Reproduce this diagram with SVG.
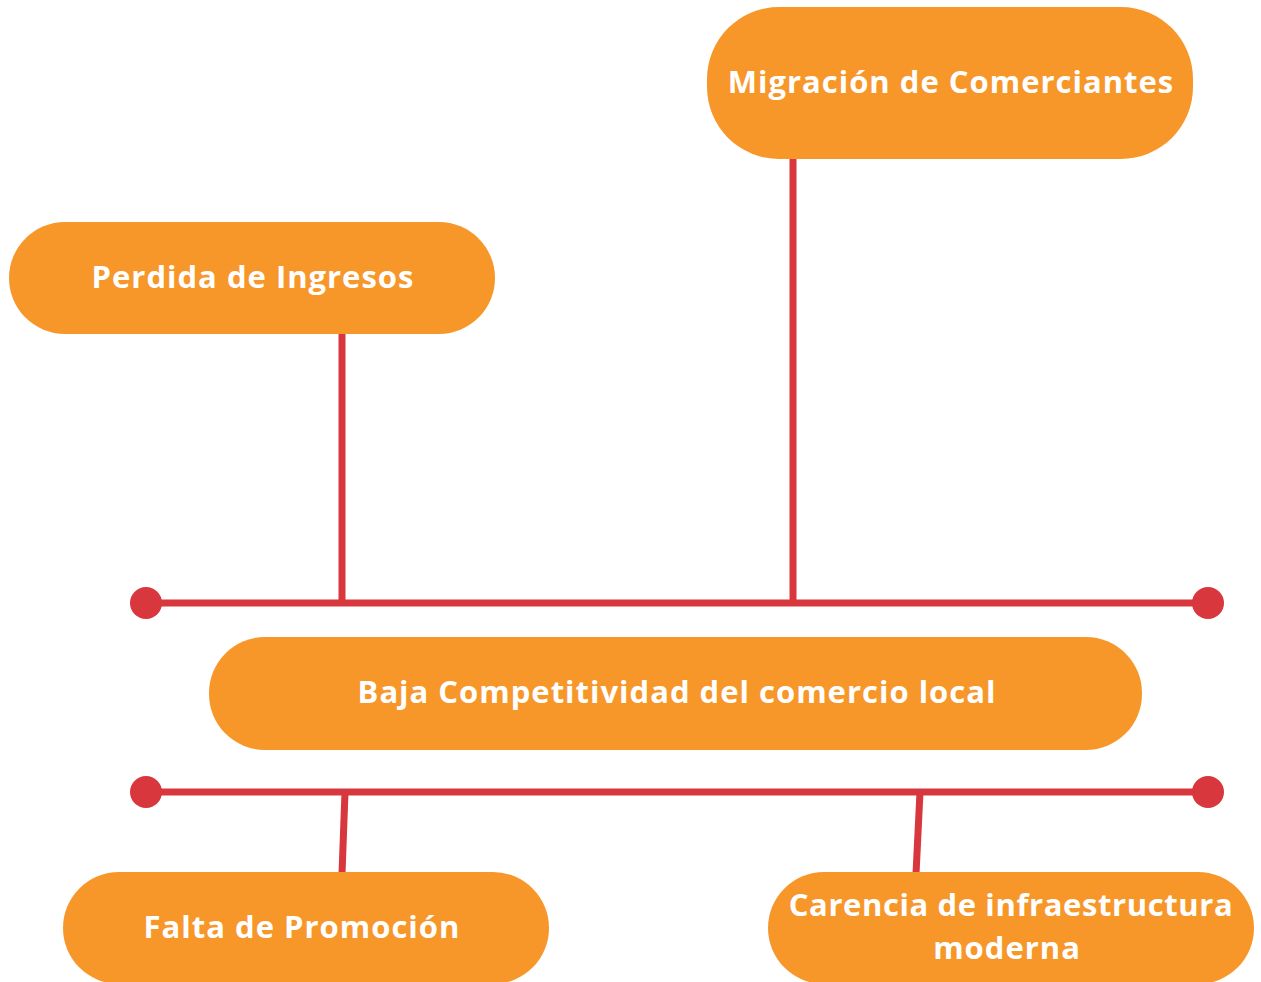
<svg xmlns="http://www.w3.org/2000/svg" width="1261" height="982" viewBox="0 0 1261 982">
<style>
.box{fill:#F7972A}
.lbl{fill:#FFFFFF;font-family:"Open Sans","Liberation Sans",sans-serif;font-weight:700;font-size:31px;letter-spacing:1px;text-anchor:middle}
.ln{stroke:#D7373D;stroke-width:7;fill:none}
.dot{fill:#D7373D}
</style>
<rect width="1261" height="982" fill="#FFFFFF"/>
<g id="connectors">
<line class="ln" x1="146" y1="603" x2="1208" y2="603"/>
<line class="ln" x1="146" y1="792" x2="1208" y2="792"/>
<line class="ln" x1="342" y1="334" x2="342" y2="603"/>
<line class="ln" x1="793" y1="159" x2="793" y2="603"/>
<line class="ln" x1="345" y1="792" x2="342" y2="874"/>
<line class="ln" x1="920" y1="792" x2="916" y2="874"/>
<circle class="dot" cx="146" cy="603" r="16"/>
<circle class="dot" cx="1208" cy="603" r="16"/>
<circle class="dot" cx="146" cy="792" r="16"/>
<circle class="dot" cx="1208" cy="792" r="16"/>
</g>
<g id="migracion">
<rect class="box" x="707" y="7" width="486" height="152" rx="72"/>
<text class="lbl" x="951" y="93">Migración de Comerciantes</text>
</g>
<g id="perdida">
<rect class="box" x="9" y="222" width="486" height="112" rx="56"/>
<text class="lbl" x="253" y="288">Perdida de Ingresos</text>
</g>
<g id="baja">
<rect class="box" x="209" y="637" width="933" height="113" rx="56"/>
<text class="lbl" x="677" y="703">Baja Competitividad del comercio local</text>
</g>
<g id="falta">
<rect class="box" x="63" y="872" width="486" height="112" rx="56"/>
<text class="lbl" x="302" y="938">Falta de Promoción</text>
</g>
<g id="carencia">
<rect class="box" x="768" y="872" width="486" height="112" rx="56"/>
<text class="lbl" x="1011" y="916" style="letter-spacing:0.6px">Carencia de infraestructura</text>
<text class="lbl" x="1007" y="959">moderna</text>
</g>
</svg>
